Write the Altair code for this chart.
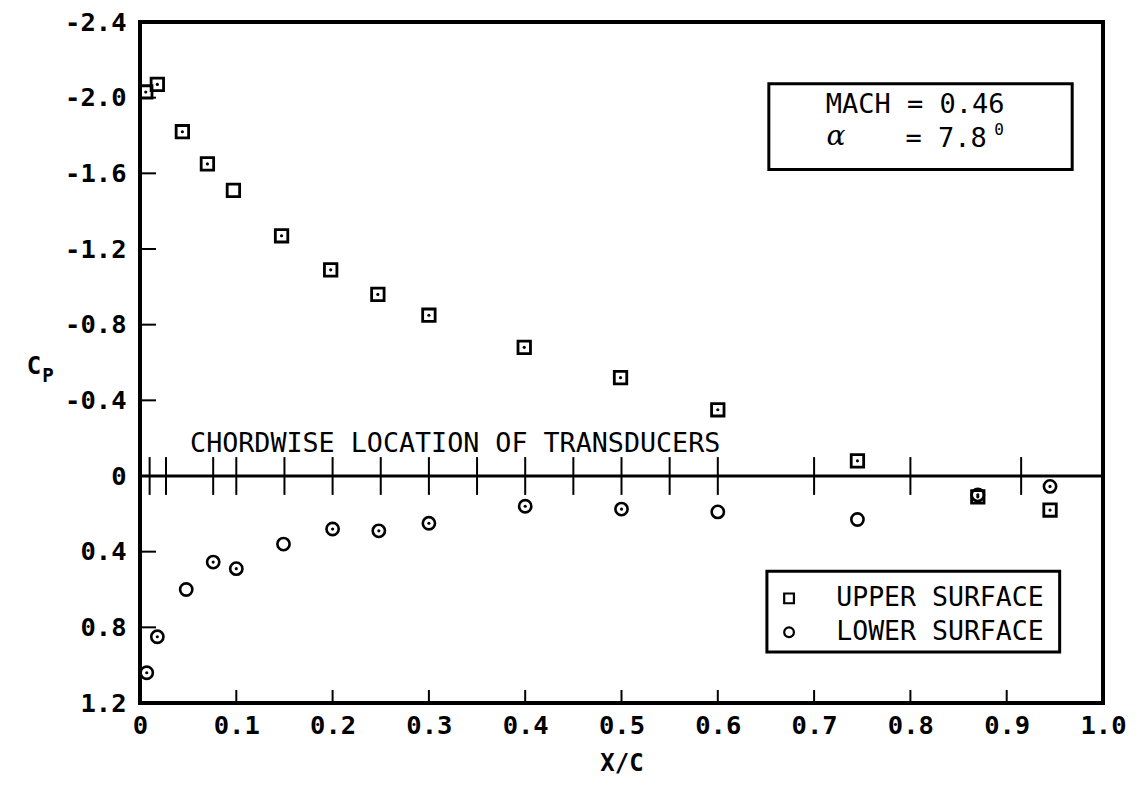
import altair as alt
import pandas as pd

# ---------------- data ----------------
upper_x = [0.006, 0.018, 0.044, 0.070, 0.097, 0.147, 0.198, 0.247, 0.300, 0.399, 0.499, 0.600, 0.745, 0.870, 0.945]
upper_cp = [-2.03, -2.07, -1.82, -1.65, -1.51, -1.27, -1.09, -0.96, -0.85, -0.68, -0.52, -0.35, -0.08, 0.11, 0.18]
upper_dot = [1, 1, 1, 1, 0, 1, 1, 1, 1, 1, 1, 1, 1, 1, 1]

lower_x = [0.007, 0.018, 0.048, 0.076, 0.100, 0.149, 0.200, 0.248, 0.300, 0.400, 0.500, 0.600, 0.745, 0.870, 0.945]
lower_cp = [1.04, 0.85, 0.60, 0.455, 0.49, 0.36, 0.28, 0.29, 0.25, 0.16, 0.175, 0.19, 0.23, 0.10, 0.055]
lower_dot = [1, 1, 0, 1, 1, 0, 1, 1, 1, 1, 1, 0, 0, 1, 1]

transducer_x = [0.010, 0.027, 0.076, 0.100, 0.150, 0.200, 0.250, 0.300, 0.350, 0.400,
                0.450, 0.500, 0.550, 0.600, 0.700, 0.800, 0.915]

y_tick_values = [-2.4, -2.0, -1.6, -1.2, -0.8, -0.4, 0.0, 0.4, 0.8, 1.2]
x_tick_values = [0.0, 0.1, 0.2, 0.3, 0.4, 0.5, 0.6, 0.7, 0.8, 0.9, 1.0]
y_inner_ticks = [-2.0, -1.6, -1.2, -0.8, -0.4, 0.4, 0.8]
x_inner_ticks = [0.1, 0.2, 0.3, 0.4, 0.5, 0.6, 0.7, 0.8, 0.9]

legend_labels = ["UPPER SURFACE", "LOWER SURFACE"]
legend_shapes = ["square", "circle"]
mach_line = "MACH = 0.46"
alpha_symbol = "α"
alpha_value = "= 7.8"
degree_mark = "0"
chord_text = "CHORDWISE LOCATION OF TRANSDUCERS"
x_title = "X/C"

# ---------------- layout / styles ----------------
W, H = 963, 681
FONT = "DejaVu Sans Mono"
xs = alt.Scale(domain=[0, 1], nice=False, zero=False)
ys = alt.Scale(domain=[-2.4, 1.2], nice=False, zero=False, reverse=True)

label_expr = "datum.value == 0 ? '0' : (datum.value < 0 ? '-' : '') + format(abs(datum.value), '.1f')"

x_axis = alt.Axis(values=x_tick_values, labelExpr=label_expr, title=x_title, domain=False,
                  ticks=False, tickSize=0, grid=False, labelFont=FONT, labelFontSize=25.5,
                  labelFontWeight="bold", labelPadding=10, labelColor="black",
                  labelFlush=False, labelOverlap=False,
                  titleFont=FONT, titleFontSize=24, titleFontWeight="bold",
                  titlePadding=13, titleColor="black")
y_axis = alt.Axis(values=y_tick_values, labelExpr=label_expr, title=None, domain=False,
                  ticks=False, tickSize=0, grid=False, labelFont=FONT, labelFontSize=25.5,
                  labelFontWeight="bold", labelPadding=14, labelColor="black",
                  labelFlush=False, labelOverlap=False)

X = alt.X("x:Q", scale=xs, axis=x_axis)
Y = alt.Y("cp:Q", scale=ys, axis=y_axis)
X2 = alt.X2("x2:Q")
Y2 = alt.Y2("cp2:Q")

df_up = pd.DataFrame({"x": upper_x, "cp": upper_cp, "dot": upper_dot})
df_low = pd.DataFrame({"x": lower_x, "cp": lower_cp, "dot": lower_dot})
df_dots = pd.concat([df_up, df_low])
df_dots = df_dots[df_dots["dot"] == 1]

zero_line = alt.Chart(pd.DataFrame({"cp": [0.0]})).mark_rule(color="black", strokeWidth=3).encode(
    y=Y, x=alt.value(0), x2=alt.value(W))

trans = alt.Chart(pd.DataFrame({"x": transducer_x, "cp": -0.1, "cp2": 0.1})).mark_rule(
    color="black", strokeWidth=2).encode(x=X, y=Y, y2=Y2)

yticks = alt.Chart(pd.DataFrame({"cp": y_inner_ticks})).mark_rule(color="black", strokeWidth=2).encode(
    y=Y, x=alt.value(0), x2=alt.value(16))
xticks = alt.Chart(pd.DataFrame({"x": x_inner_ticks})).mark_rule(color="black", strokeWidth=2).encode(
    x=X, y=alt.value(H), y2=alt.value(H - 13))

up = alt.Chart(df_up).mark_point(shape="square", size=155, filled=False, stroke="black",
                                 strokeWidth=2.8, opacity=1).encode(x=X, y=Y)
low = alt.Chart(df_low).mark_point(shape="circle", size=150, filled=False, stroke="black",
                                   strokeWidth=2.6, opacity=1).encode(x=X, y=Y)
dots = alt.Chart(df_dots).mark_circle(size=10, color="black", opacity=1).encode(x=X, y=Y)

chord = alt.Chart(pd.DataFrame({"x": [0.052], "cp": [-0.17], "t": [chord_text]})).mark_text(
    font=FONT, fontSize=26.7, align="left", baseline="middle", color="black").encode(
    x=X, y=Y, text="t:N")

mach_box = alt.Chart(pd.DataFrame({"x": [0.653], "x2": [0.968], "cp": [-2.073], "cp2": [-1.62]})).mark_rect(
    fill="white", stroke="black", strokeWidth=3).encode(x=X, x2=X2, y=Y, y2=Y2)
mach_t = alt.Chart(pd.DataFrame({"x": [0.712], "cp": [-1.962], "t": [mach_line]})).mark_text(
    font=FONT, fontSize=27, align="left", baseline="middle", color="black").encode(x=X, y=Y, text="t:N")
alpha_t = alt.Chart(pd.DataFrame({"x": [0.713], "cp": [-1.79], "t": [alpha_symbol]})).mark_text(
    font="DejaVu Serif", fontStyle="italic", fontSize=28, align="left", baseline="middle",
    color="black").encode(x=X, y=Y, text="t:N")
alpha_v = alt.Chart(pd.DataFrame({"x": [0.795], "cp": [-1.783], "t": [alpha_value]})).mark_text(
    font=FONT, fontSize=27, align="left", baseline="middle", color="black").encode(x=X, y=Y, text="t:N")
deg_t = alt.Chart(pd.DataFrame({"x": [0.892], "cp": [-1.83], "t": [degree_mark]})).mark_text(
    font=FONT, fontSize=16, align="center", baseline="middle", color="black").encode(x=X, y=Y, text="t:N")

leg_box = alt.Chart(pd.DataFrame({"x": [0.651], "x2": [0.955], "cp": [0.504], "cp2": [0.931]})).mark_rect(
    fill="white", stroke="black", strokeWidth=3).encode(x=X, x2=X2, y=Y, y2=Y2)
df_leg = pd.DataFrame({"label": legend_labels, "shape": legend_shapes, "cp": [0.647, 0.826],
                       "x": 0.674, "xt": 0.723})
leg_marks = alt.Chart(df_leg).mark_point(filled=False, stroke="black", strokeWidth=2.2,
                                         size=95, opacity=1).encode(
    x=X, y=Y,
    shape=alt.Shape("shape:N", scale=alt.Scale(domain=legend_shapes, range=legend_shapes), legend=None))
leg_text = alt.Chart(df_leg).mark_text(font=FONT, fontSize=26.5, align="left", baseline="middle",
                                       color="black").encode(
    x=alt.X("xt:Q", scale=xs, axis=x_axis), y=Y, text="label:N")

cp_c = alt.Chart(pd.DataFrame({"cp": [-0.575], "t": ["C"]})).mark_text(
    font=FONT, fontSize=24, fontWeight="bold", align="center", baseline="middle", color="black").encode(
    x=alt.value(-106), y=Y, text="t:N")
cp_p = alt.Chart(pd.DataFrame({"cp": [-0.53], "t": ["P"]})).mark_text(
    font=FONT, fontSize=19, fontWeight="bold", align="center", baseline="middle", color="black").encode(
    x=alt.value(-92), y=Y, text="t:N")

chart = alt.layer(
    zero_line, trans, yticks, xticks, up, low, dots, chord,
    mach_box, mach_t, alpha_t, alpha_v, deg_t,
    leg_box, leg_marks, leg_text, cp_c, cp_p,
).properties(
    width=W, height=H,
    autosize=alt.AutoSizeParams(type="none"),
    padding={"left": 132, "top": 14, "right": 29, "bottom": 75},
    background="white",
).configure_view(stroke="black", strokeWidth=4)

chart.save("out.html", embed_options={"renderer": "svg", "actions": False})
